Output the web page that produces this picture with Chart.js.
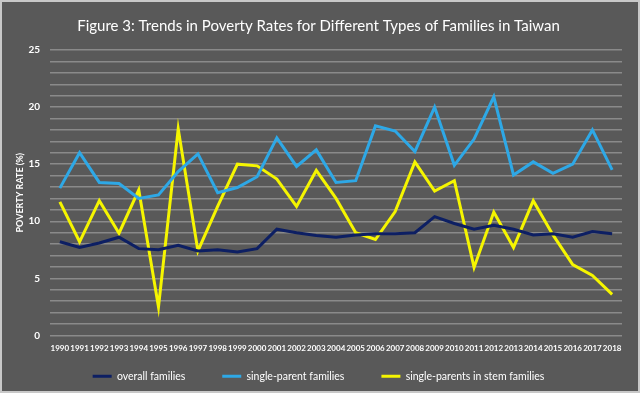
<!DOCTYPE html>
<html>
<head>
<meta charset="utf-8">
<script src="https://cdn.jsdelivr.net/npm/chart.js@4.4.0/dist/chart.umd.min.js"></script>
<style>
  html, body { margin: 0; padding: 0; background: #595959; }
  #wrap { width: 636px; height: 389px; border: 2px solid #c8c8c8; background: #595959; }
</style>
</head>
<body>
<div id="wrap"><canvas id="chart" width="636" height="389"></canvas></div>
<script>
// values
const years = ["1990", "1991", "1992", "1993", "1994", "1995", "1996", "1997", "1998", "1999",
  "2000", "2001", "2002", "2003", "2004", "2005", "2006", "2007", "2008", "2009",
  "2010", "2011", "2012", "2013", "2014", "2015", "2016", "2017", "2018"];
const overall = [8.2, 7.7, 8.1, 8.6, 7.6, 7.5, 7.9, 7.4, 7.5, 7.3,
  7.6, 9.3, 9.0, 8.75, 8.6, 8.8, 8.9, 8.9, 9.0, 10.4,
  9.8, 9.3, 9.65, 9.3, 8.8, 8.9, 8.6, 9.1, 8.9];
const singleParent = [12.9, 16.0, 13.4, 13.3, 12.0, 12.3, 14.35, 15.9, 12.5, 12.95,
  13.9, 17.3, 14.8, 16.25, 13.4, 13.55, 18.35, 17.9, 16.1, 20.0,
  14.9, 17.2, 20.9, 14.05, 15.2, 14.2, 15.0, 18.0, 14.5];
const stemFamilies = [11.7, 8.2, 11.8, 8.95, 12.75, 2.5, 18.1, 7.4, 11.3, 15.0,
  14.85, 13.7, 11.3, 14.45, 12.0, 9.0, 8.4, 10.85, 15.2, 12.65,
  13.55, 5.95, 10.8, 7.7, 11.8, 8.8, 6.2, 5.25, 3.6];
const yLabels = [0, 5, 10, 15, 20, 25];

// wide gaps between legend items, but keep the legend box short:
// its height is capped by maxHeight and the box is moved up so the row is not clipped
const legendPlace = {
  id: "legendPlace",
  afterLayout: function (chart) {
    chart.legend.top = 332;
    chart.legend.bottom = 389;
  },
};

var ctx = document.getElementById("chart").getContext("2d");
var myChart = new Chart(ctx, {
  type: "line",
  data: {
    labels: years,
    datasets: [
      { label: "overall families", data: overall, borderColor: "#0d1f63", backgroundColor: "#0d1f63" },
      { label: "single-parent families", data: singleParent, borderColor: "#2ea8e6", backgroundColor: "#2ea8e6" },
      { label: "single-parents in stem families", data: stemFamilies, borderColor: "#f5f500", backgroundColor: "#f5f500" },
    ],
  },
  plugins: [legendPlace],
  options: {
    responsive: false,
    animation: false,
    elements: {
      line: { borderWidth: 3, tension: 0 },
      point: { radius: 0 },
    },
    layout: { padding: { left: 13, right: 16, top: 0, bottom: 0 } },
    plugins: {
      title: {
        display: true,
        text: "Figure 3: Trends in Poverty Rates for Different Types of Families in Taiwan",
        color: "#ffffff",
        font: { family: "Lato", size: 15, weight: "normal" },
        padding: { top: 15, bottom: 15 },
      },
      legend: {
        position: "bottom",
        maxHeight: 38,
        labels: {
          color: "#ffffff",
          usePointStyle: true,
          pointStyle: "line",
          pointStyleWidth: 19,
          padding: 37,
          font: { family: "Lato", size: 10.5 },
          generateLabels: function (chart) {
            return chart.data.datasets.map(function (ds, i) {
              return {
                text: ds.label,
                strokeStyle: ds.borderColor,
                fillStyle: ds.borderColor,
                lineWidth: 3,
                pointStyle: "line",
                fontColor: "#ffffff",
                datasetIndex: i,
              };
            });
          },
        },
      },
      tooltip: { enabled: false },
    },
    scales: {
      x: {
        offset: true,
        grid: { display: false },
        border: { display: false },
        ticks: {
          color: "#ffffff",
          maxRotation: 0,
          autoSkip: false,
          padding: 0,
          font: { family: "Lato", size: 8, weight: "bold" },
        },
      },
      y: {
        min: 0,
        max: 25,
        afterFit: function (scale) { scale.width = 35; },
        border: { display: false },
        grid: { color: "#8a8a8a", lineWidth: 1.4, drawTicks: false },
        title: {
          display: true,
          text: "POVERTY RATE (%)",
          color: "#ffffff",
          font: { family: "Lato", size: 9, weight: "bold" },
          padding: 0,
        },
        ticks: {
          stepSize: 1,
          maxTicksLimit: 30,
          autoSkip: false,
          color: "#ffffff",
          padding: 10,
          font: { family: "Lato", size: 10, weight: "bold" },
          callback: function (v) { return yLabels.indexOf(v) >= 0 ? v : ""; },
        },
      },
    },
  },
});
</script>
</body>
</html>
